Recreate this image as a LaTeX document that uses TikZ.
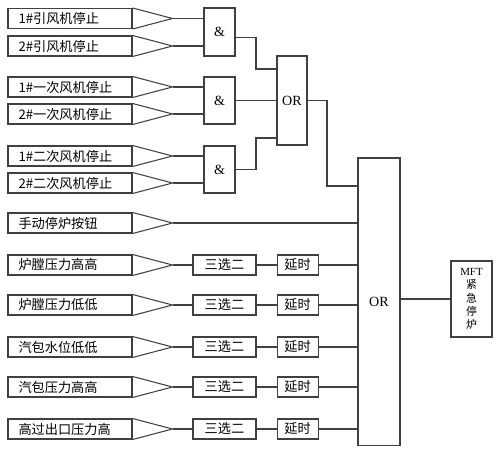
\documentclass[tikz,border=0pt]{standalone}
\usepackage{fontspec}
\setmainfont{Liberation Serif}
\newfontfamily\cjk{Noto Sans CJK SC}
\usepackage{tikz}
\usetikzlibrary{positioning}

\tikzset{
  wire/.style={draw=black!75, line width=0.6pt},
  inbox/.style={wire, rectangle, text width=2.06cm, inner xsep=0.21cm, inner ysep=0pt,
    minimum height=0.4cm, align=left, font=\cjk\fontsize{7.5}{9}\selectfont},
  gatebox/.style={wire, rectangle, inner sep=0pt, font=\fontsize{8}{9}\selectfont},
  smallbox/.style={wire, rectangle, inner sep=0pt, minimum height=0.4cm,
    font=\cjk\fontsize{7.5}{9}\selectfont},
}

\begin{document}
\begin{tikzpicture}[x=0.02cm, y=-0.02cm]
    \useasboundingbox (0,0) rectangle (500,455);

    % Gates
    \node[gatebox, minimum width=0.62cm, minimum height=0.96cm] (and1) at (219.5,32) {\&};
    \node[gatebox, minimum width=0.62cm, minimum height=0.94cm] (and2) at (219.5,100.5) {\&};
    \node[gatebox, minimum width=0.62cm, minimum height=0.94cm] (and3) at (219.5,169.5) {\&};
    \node[gatebox, minimum width=0.6cm, minimum height=1.78cm] (or1) at (292,100.5) {OR};
    \node[gatebox, minimum width=0.84cm, minimum height=5.76cm] (or2) at (379,302) {OR};
    \node[gatebox, minimum width=0.82cm, minimum height=1.52cm, align=center,
      font=\fontsize{6.2}{7.6}\selectfont] (mft) at (471.5,299)
      {MFT\\{\cjk 紧}\\{\cjk 急}\\{\cjk 停}\\{\cjk 炉}};

    % Fan inputs
    \foreach \n/\y/\g/\txt in {1/18.5/1/1\#引风机停止, 2/46/1/2\#引风机停止,
        3/87/2/1\#一次风机停止, 4/114/2/2\#一次风机停止,
        5/156/3/1\#二次风机停止, 6/183/3/2\#二次风机停止} {
      \node[inbox] (in\n) at (70,\y) {\txt};
      \coordinate (tip\n) at ([xshift=0.8cm]in\n.east);
      \draw[wire] (in\n.north east) -- (tip\n) -- (in\n.south east);
      \draw[wire] (tip\n) -- (tip\n -| and\g.west);
    }

    % AND to OR
    \coordinate (j1) at (256,69);
    \coordinate (j2) at (256,138);
    \coordinate (j3) at (327,186);
    \draw[wire] ([yshift=-3pt]and1.east) -| (j1) -- (j1 -| or1.west);
    \draw[wire] (and2.east) -- (and2.east -| or1.west);
    \draw[wire] (and3.east) -| (j2) -- (j2 -| or1.west);
    \draw[wire] (or1.east) -| (j3) -- (j3 -| or2.west);

    % Manual trip
    \node[inbox] (man) at (70,223) {手动停炉按钮};
    \coordinate (mtip) at ([xshift=0.8cm]man.east);
    \draw[wire] (man.north east) -- (mtip) -- (man.south east);
    \draw[wire] (mtip) -- (mtip -| or2.west);

    % Two-out-of-three rows
    \foreach \n/\y/\txt in {1/265/炉膛压力高高, 2/305/炉膛压力低低, 3/347/汽包水位低低,
        4/387/汽包压力高高, 5/429/高过出口压力高} {
      \node[inbox] (row\n) at (70,\y) {\txt};
      \coordinate (rtip\n) at ([xshift=0.8cm]row\n.east);
      \draw[wire] (row\n.north east) -- (rtip\n) -- (row\n.south east);
      \node[smallbox, minimum width=1.26cm] (sel\n) at (224.5,\y) {三选二};
      \node[smallbox, minimum width=0.82cm, right=0.4cm of sel\n] (dly\n) {延时};
      \draw[wire] (rtip\n) -- (sel\n.west);
      \draw[wire] (sel\n.east) -- (dly\n.west);
      \draw[wire] (dly\n.east) -- (dly\n.east -| or2.west);
    }

    % Output
    \draw[wire] (mft.west -| or2.east) -- (mft.west);

\end{tikzpicture}
\end{document}
